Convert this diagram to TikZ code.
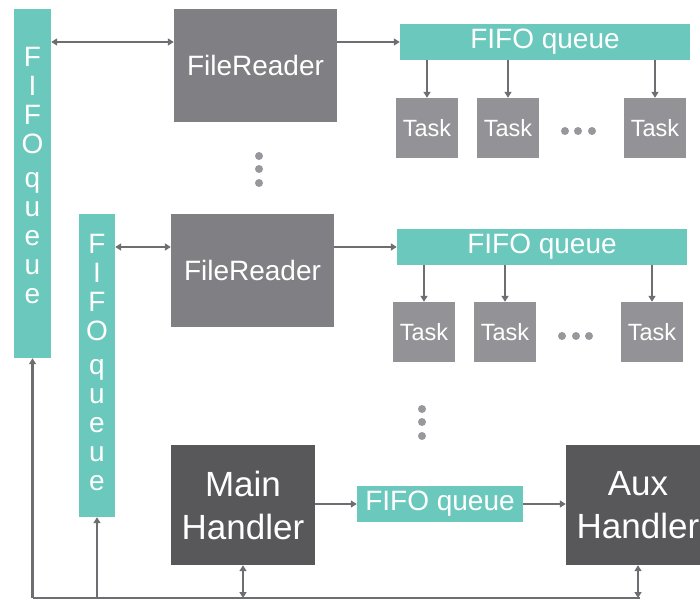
\documentclass[tikz,border=0pt]{standalone}
\usepackage{fontspec}
\setmainfont{Liberation Sans}
\usepackage{tikz}
\usetikzlibrary{arrows.meta,positioning}
\definecolor{QueueTeal}{HTML}{6AC8BC}
\definecolor{ReaderGray}{HTML}{808084}
\definecolor{TaskGray}{HTML}{939397}
\definecolor{HandlerGray}{HTML}{58585A}
\definecolor{LineGray}{HTML}{6E6E72}
\definecolor{DotGray}{HTML}{98989C}

\begin{document}
\begin{tikzpicture}[x=1pt,y=-1pt,>={Triangle[length=6pt,width=7pt]},
    box/.style={rectangle,inner sep=0pt,text=white,align=center},
    queue/.style={box,fill=QueueTeal,minimum height=36pt,font=\fontsize{28}{29}\selectfont},
    reader/.style={box,fill=ReaderGray,minimum width=163pt,minimum height=113pt,font=\fontsize{28}{30}\selectfont},
    task/.style={box,fill=TaskGray,minimum width=62pt,minimum height=60pt,font=\fontsize{23.5}{24}\selectfont},
    handler/.style={box,fill=HandlerGray,minimum width=144pt,minimum height=120pt,font=\fontsize{35}{43}\selectfont},
    conn/.style={LineGray,line width=2.2pt}]
  \useasboundingbox (0,0) rectangle (700,601);
  % vertical queues
  \node[queue,minimum width=37pt,minimum height=349pt,text depth=17pt](fifoA)at(32.5,183.5){F\\I\\F\\O\\[5pt]q\\u\\e\\u\\e};
  \node[queue,minimum width=36pt,minimum height=303pt,text depth=6pt](fifoB)at(97,365.5){F\\I\\F\\O\\[5pt]q\\u\\e\\u\\e};
  % readers and their queues
  \node[reader](readA)at(255.5,65.5){FileReader};
  \node[reader](readB)at(252.5,270.5){FileReader};
  \node[queue,minimum width=290pt](qA)at(545,42){FIFO queue};
  \node[queue,minimum width=290pt](qB)at(542,247){FIFO queue};
  \foreach \n/\x in {1/427,2/508,3/655}{
    \node[task](tA\n)at(\x,128){Task};
    \draw[conn,->](qA.south -| tA\n)--(tA\n.north);}
  \foreach \n/\x in {1/424,2/505,3/652}{
    \node[task](tB\n)at(\x,332){Task};
    \draw[conn,->](qB.south -| tB\n)--(tB\n.north);}
  \draw[conn,<->](fifoA.east |- qA.west)--(readA.west |- qA.west);
  \draw[conn,<->](fifoB.east |- qB.west)--(readB.west |- qB.west);
  \draw[conn,->](readA.east |- qA.west)--(qA.west);
  \draw[conn,->](readB.east |- qB.west)--(qB.west);
  % handlers
  \node[handler](main)at(243,505){Main\\Handler};
  \node[queue,minimum width=166pt](qC)at(440,504){FIFO queue};
  \node[handler](aux)at(638,505){Aux\\Handler};
  \draw[conn,->](main.east |- qC.west)--(qC.west);
  \draw[conn,->](qC.east)--(aux.west |- qC.east);
  % bottom line
  \coordinate(busL)at(32.5,598);
  \coordinate(busR)at(640,598);
  \draw[conn](busL)--(busR);
  \draw[conn,->](busL)--(fifoA.south);
  \draw[conn,->](fifoB.south |- busL)--(fifoB.south);
  \draw[conn,<->](main.south)--(main.south |- busL);
  \draw[conn,<->](aux.south)--(aux.south |- busL);
  % ellipses
  \foreach \y in {156,169,183} \fill[DotGray](259,\y)circle(4pt);
  \foreach \y in {409,422,436} \fill[DotGray](422,\y)circle(4pt);
  \foreach \x in {565,578,592} \fill[DotGray](\x,131)circle(4pt);
  \foreach \x in {562,576,589} \fill[DotGray](\x,336)circle(4pt);
\end{tikzpicture}
\end{document}
